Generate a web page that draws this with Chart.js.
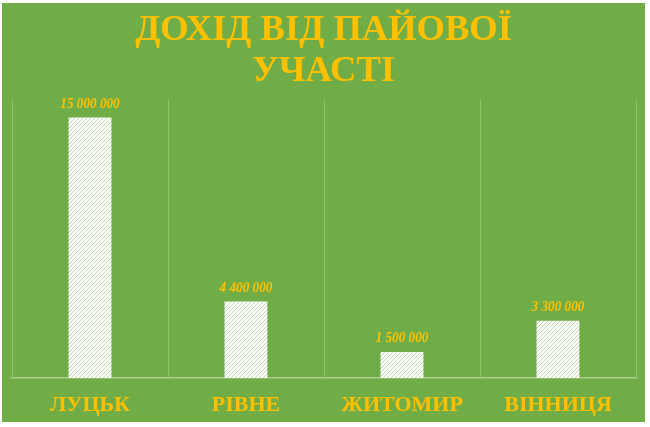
<!DOCTYPE html>
<html>
<head>
<meta charset="utf-8">
<script src="https://cdn.jsdelivr.net/npm/chart.js@4.4.0/dist/chart.umd.min.js"></script>
<style>
  html,body{margin:0;padding:0;background:#fff;}
  #wrap{position:absolute;left:2px;top:3px;width:643px;height:419px;background:#70ad47;}
  canvas{display:block;}
</style>
</head>
<body>
<div id="wrap"><canvas id="c" width="643" height="419"></canvas></div>
<script>
const titleLines = ["ДОХІД ВІД ПАЙОВОЇ", "УЧАСТІ"];
const cities = ["ЛУЦЬК", "РІВНЕ", "ЖИТОМИР", "ВІННИЦЯ"];
const income = [15000000, 4400000, 1500000, 3300000];

const GOLD = "#ffc000";

function qs(id){ return document.getElementById(id); }

function fmt(n){
  return String(n).replace(/\B(?=(\d{3})+(?!\d))/g, " ");
}

// white bar with thin green diagonal stripes
function makeHatch(){
  const p = document.createElement("canvas");
  p.width = 4; p.height = 4;
  const g = p.getContext("2d");
  g.fillStyle = "#ffffff";
  g.fillRect(0,0,4,4);
  g.strokeStyle = "#bcdba6";
  g.lineWidth = 1;
  g.beginPath();
  g.moveTo(0,4); g.lineTo(4,0);
  g.moveTo(-1,1); g.lineTo(1,-1);
  g.moveTo(3,5); g.lineTo(5,3);
  g.stroke();
  return g.createPattern(p, "repeat");
}

const titlePlugin = {
  id: "titleText",
  afterDraw(chart){
    const ctx = chart.ctx;
    ctx.save();
    ctx.fillStyle = GOLD;
    ctx.font = "bold 36.5px 'Liberation Serif', 'DejaVu Serif', serif";
    ctx.textAlign = "center";
    ctx.textBaseline = "middle";
    ctx.fillText(titleLines[0], chart.width/2, 28);
    ctx.fillText(titleLines[1], chart.width/2, 69);
    ctx.restore();
  }
};

const valuePlugin = {
  id: "valueLabels",
  afterDatasetsDraw(chart){
    const ctx = chart.ctx;
    const meta = chart.getDatasetMeta(0);
    ctx.save();
    ctx.fillStyle = GOLD;
    ctx.font = "italic bold 15px 'Liberation Serif', serif";
    ctx.textAlign = "center";
    ctx.textBaseline = "bottom";
    meta.data.forEach((bar, i) => {
      ctx.save();
      ctx.translate(bar.x, bar.y - 6);
      ctx.scale(0.88, 1);
      ctx.fillText(fmt(income[i]), 0, 0);
      ctx.restore();
    });
    ctx.restore();
  }
};

function drawChart(){
  new Chart(qs("c"), {
    type: "bar",
    data: {
      labels: cities,
      datasets: [{
        data: income,
        backgroundColor: makeHatch(),
        borderWidth: 0,
        barPercentage: 0.275,
        categoryPercentage: 1
      }]
    },
    options: {
      responsive: false,
      animation: false,
      layout: { padding: { left: 10, right: 9, top: 97, bottom: 0 } },
      plugins: { legend: { display: false }, tooltip: { enabled: false } },
      scales: {
        x: {
          grid: { color: "#8cc56a", drawTicks: false, offset: true },
          border: { color: "#a9d18e", width: 1.5 },
          ticks: {
            color: GOLD,
            padding: 14,
            font: { family: "'Liberation Serif', serif", size: 22, weight: "bold" }
          },
          afterFit(scale){ scale.height = 44; }
        },
        y: {
          display: false,
          min: 0,
          max: 16000000
        }
      }
    },
    plugins: [titlePlugin, valuePlugin]
  });
}

document.addEventListener("DOMContentLoaded", drawChart);
</script>
</body>
</html>
